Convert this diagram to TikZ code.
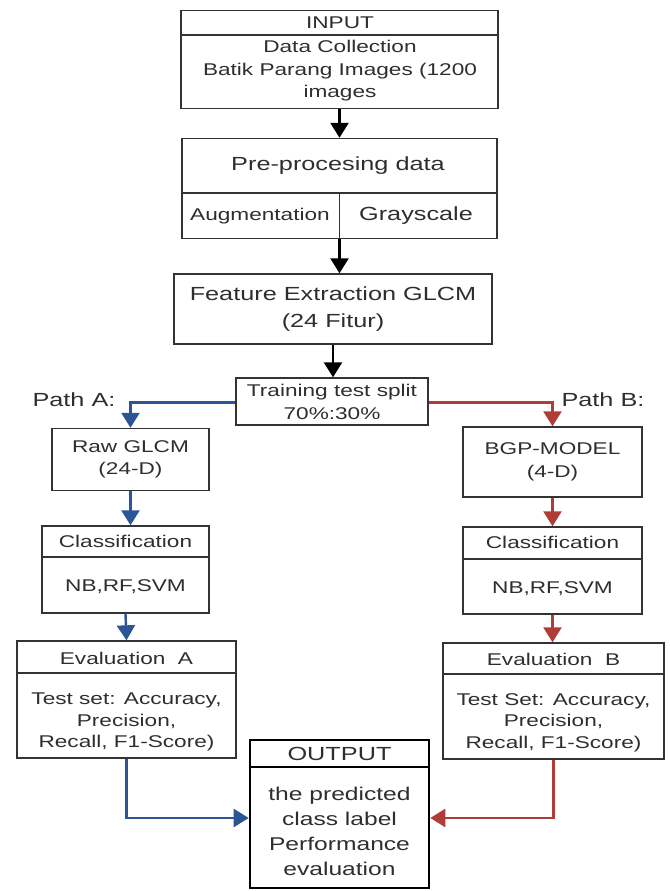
\documentclass[tikz,border=0pt]{standalone}
\usepackage{fontspec}
\usetikzlibrary{arrows.meta,calc}
\newfontfamily\af[FakeStretch=1.33]{Liberation Sans}
\definecolor{textcol}{HTML}{2E2E2E}
\definecolor{bordercol}{HTML}{333333}
\definecolor{pathblue}{HTML}{2B5595}
\definecolor{pathred}{HTML}{B03C37}
\tikzset{
  box/.style={draw=bordercol, line width=1.4pt, inner sep=0pt, text=textcol, align=center,
    font=\af\fontsize{17}{22.5}\selectfont},
  txt/.style={text=textcol, font=\af\fontsize{17}{22.5}\selectfont, align=center, inner sep=0pt},
  bigtxt/.style={txt, font=\af\fontsize{19}{27}\selectfont},
  divider/.style={draw=bordercol, line width=1.4pt},
  conn/.style={line width=2.4pt, -{Triangle[width=18pt,length=15pt]}},
  blk/.style={conn, draw=black, color=black},
  blu/.style={conn, draw=pathblue, color=pathblue},
  rd/.style={conn, draw=pathred, color=pathred}
}
\begin{document}
\begin{tikzpicture}[x=1pt,y=-1pt]
\useasboundingbox (0,0) rectangle (669,891);
% INPUT
\node[box, minimum width=317pt, minimum height=98pt] (input) at (339.5,59.5) {};
\draw[divider] (181,35) -- (498,35);
\node[txt] (inputH) at (340,22.5) {INPUT};
\node[txt] (inputB) at (340,71) {Data Collection\\ Batik Parang Images (1200\\images};
% Preprocessing
\node[box, minimum width=315pt, minimum height=100pt] (pre) at (339.5,188.5) {};
\draw[divider] (182,193) -- (497,193);
\draw[divider] (339.5,193) -- (339.5,238);
\node[bigtxt] (preH) at (338,166) {Pre-procesing data};
\node[txt] (aug) at (260,216) {Augmentation};
\node[bigtxt] (gray) at (416,216) {Grayscale};
% Feature
\node[box, bigtxt, draw=bordercol, minimum width=318pt, minimum height=70pt] (feat) at (333,309) {Feature Extraction GLCM\\(24 Fitur)};
% Training
\node[box, minimum width=192pt, minimum height=47pt, font=\af\fontsize{17}{23}\selectfont] (train) at (332,401.5) {Training test split\\70\%:30\%};
\node[bigtxt] (pathA) at (74,400) {Path A:};
\node[bigtxt] (pathB) at (603,400) {Path B:};
% Raw / BGP
\node[box, minimum width=157pt, minimum height=62pt] (raw) at (130.5,459.5) {Raw GLCM\\(24-D)};
\node[box, minimum width=179pt, minimum height=70pt, font=\af\fontsize{17}{23}\selectfont] (bgp) at (552.5,462) {BGP-MODEL\\(4-D)};
% Classification
\node[box, minimum width=167pt, minimum height=87pt] (clsA) at (125.5,569.5) {};
\draw[divider] (42,557) -- (209,557);
\node[txt] (clsAH) at (125.5,541.5) {Classification};
\node[txt] (clsAB) at (125.5,587) {NB,RF,SVM};
\node[box, minimum width=179pt, minimum height=87pt] (clsB) at (552.5,570.5) {};
\draw[divider] (463,559) -- (642,559);
\node[txt] (clsBH) at (552.5,542.5) {Classification};
\node[txt] (clsBB) at (552.5,588.5) {NB,RF,SVM};
% Evaluation
\node[box, minimum width=219pt, minimum height=117pt] (evA) at (126.5,699.5) {};
\draw[divider] (17,673) -- (236,673);
\node[txt] (evAH) at (126.5,658) {Evaluation\ \ A};
\node[txt, font=\af\fontsize{17}{21.5}\selectfont] (evAB) at (126.5,722) {Test set: Accuracy,\\Precision,\\Recall, F1-Score)};
\node[box, minimum width=221pt, minimum height=116pt] (evB) at (553.5,701) {};
\draw[divider] (443,674) -- (664,674);
\node[txt] (evBH) at (553.5,659) {Evaluation\ \ B};
\node[txt, font=\af\fontsize{17}{21.5}\selectfont] (evBB) at (553.5,722.5) {Test Set: Accuracy,\\Precision,\\Recall, F1-Score)};
% Output
\node[draw=black, line width=2.6pt, inner sep=0pt, minimum width=179pt, minimum height=148pt] (out) at (339.5,814) {};
\draw[draw=black, line width=2pt] (250,767) -- (429,767);
\node[bigtxt] (outH) at (339.5,754) {OUTPUT};
\node[bigtxt, font=\af\fontsize{18.5}{25}\selectfont] (outB) at (339.5,831) {the predicted\\class label\\Performance\\evaluation};
% Connectors
\draw[blk] (input.south) -- (pre.north);
\draw[blk] (pre.south) -- (pre.south |- feat.north);
\draw[blk] (feat.south) -- (feat.south |- train.north);
\draw[blu] ([yshift=-1pt]train.west) -| (raw.north);
\draw[rd] ([yshift=-1pt]train.east) -| (bgp.north);
\draw[blu] (raw.south) -- (raw.south |- clsA.north);
\draw[rd] (bgp.south) -- (bgp.south |- clsB.north);
\draw[blu] (clsA.south) -- (evA.north);
\draw[rd] (clsB.south) -- (clsB.south |- evB.north);
\draw[blu] (evA.south) |- ([yshift=-4pt]out.west);
\draw[rd] (evB.south) |- ([yshift=-4pt]out.east);
\end{tikzpicture}
\end{document}
